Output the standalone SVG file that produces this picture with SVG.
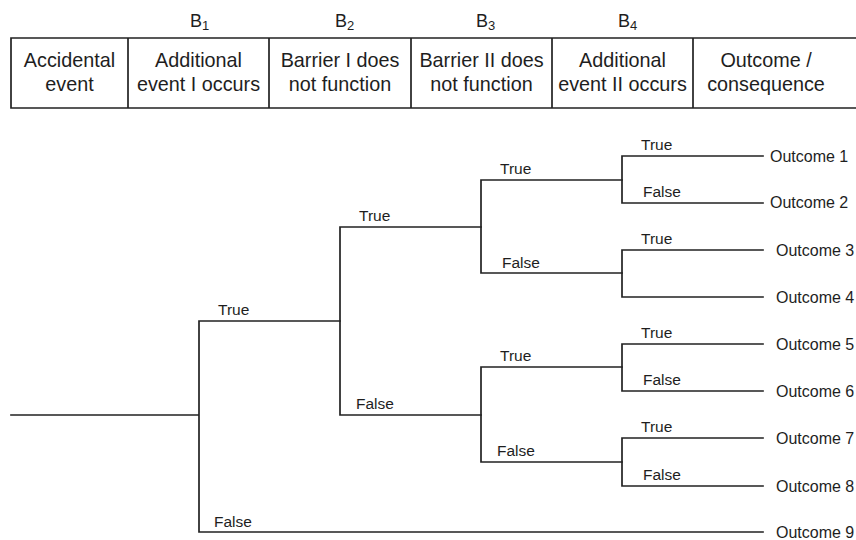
<svg xmlns="http://www.w3.org/2000/svg" width="856" height="540" viewBox="0 0 856 540">
<style>
  .ln { stroke: #222; stroke-width: 1.7; fill: none; stroke-linecap: square; }
  .hd { font-family: "Liberation Sans", Arial, sans-serif; font-size: 19.8px; fill: #1e1e1e; text-anchor: middle; }
  .bl { font-family: "Liberation Sans", Arial, sans-serif; font-size: 18px; fill: #1e1e1e; }
  .sb { font-size: 13px; }
  .lb { font-family: "Liberation Sans", Arial, sans-serif; font-size: 15.5px; fill: #1e1e1e; }
  .oc { font-family: "Liberation Sans", Arial, sans-serif; font-size: 16px; fill: #1e1e1e; }
</style>
<rect width="856" height="540" fill="#fff"/>
<g id="header">
  <path class="ln" d="M11 38 H860 M11 108 H860 M11 38 V108 M128 38 V108 M269 38 V108 M411 38 V108 M552 38 V108 M693 38 V108"/>
  <text class="bl" x="190" y="27">B<tspan class="sb" dy="3">1</tspan></text>
  <text class="bl" x="335" y="27">B<tspan class="sb" dy="3">2</tspan></text>
  <text class="bl" x="476" y="27">B<tspan class="sb" dy="3">3</tspan></text>
  <text class="bl" x="618" y="27">B<tspan class="sb" dy="3">4</tspan></text>
  <text class="hd" x="69.5" y="67">Accidental</text>
  <text class="hd" x="69.5" y="91">event</text>
  <text class="hd" x="198.5" y="67">Additional</text>
  <text class="hd" x="198.5" y="91">event I occurs</text>
  <text class="hd" x="340" y="67">Barrier I does</text>
  <text class="hd" x="340" y="91">not function</text>
  <text class="hd" x="481.5" y="67">Barrier II does</text>
  <text class="hd" x="481.5" y="91">not function</text>
  <text class="hd" x="622.5" y="67">Additional</text>
  <text class="hd" x="622.5" y="91">event II occurs</text>
  <text class="hd" x="766" y="67">Outcome /</text>
  <text class="hd" x="766" y="91">consequence</text>
</g>
<g id="connectors">
  <path class="ln" d="M11 415 H199 M199 321 V532 M199 321 H340 M199 532 H763"/>
  <path class="ln" d="M340 227 V415 M340 227 H481 M340 415 H481"/>
  <path class="ln" d="M481 180 V273 M481 180 H622 M481 273 H622"/>
  <path class="ln" d="M481 367 V462 M481 367 H622 M481 462 H622"/>
  <path class="ln" d="M622 156 V203 M622 156 H763 M622 203 H763"/>
  <path class="ln" d="M622 250 V297 M622 250 H763 M622 297 H763"/>
  <path class="ln" d="M622 344 V391 M622 344 H763 M622 391 H763"/>
  <path class="ln" d="M622 438 V486 M622 438 H763 M622 486 H763"/>
</g>
<g id="labels">
  <text class="lb" x="218" y="315">True</text>
  <text class="lb" x="214" y="527">False</text>
  <text class="lb" x="359" y="221">True</text>
  <text class="lb" x="356" y="409">False</text>
  <text class="lb" x="500" y="174">True</text>
  <text class="lb" x="502" y="268">False</text>
  <text class="lb" x="500" y="361">True</text>
  <text class="lb" x="497" y="456">False</text>
  <text class="lb" x="641" y="150">True</text>
  <text class="lb" x="643" y="197">False</text>
  <text class="lb" x="641" y="244">True</text>
  <text class="lb" x="641" y="338">True</text>
  <text class="lb" x="643" y="385">False</text>
  <text class="lb" x="641" y="432">True</text>
  <text class="lb" x="643" y="480">False</text>
</g>
<g id="outcomes">
  <text class="oc" x="770" y="162">Outcome 1</text>
  <text class="oc" x="770" y="208">Outcome 2</text>
  <text class="oc" x="776" y="256">Outcome 3</text>
  <text class="oc" x="776" y="303">Outcome 4</text>
  <text class="oc" x="776" y="350">Outcome 5</text>
  <text class="oc" x="776" y="397">Outcome 6</text>
  <text class="oc" x="776" y="444">Outcome 7</text>
  <text class="oc" x="776" y="492">Outcome 8</text>
  <text class="oc" x="776" y="538">Outcome 9</text>
</g>
</svg>
